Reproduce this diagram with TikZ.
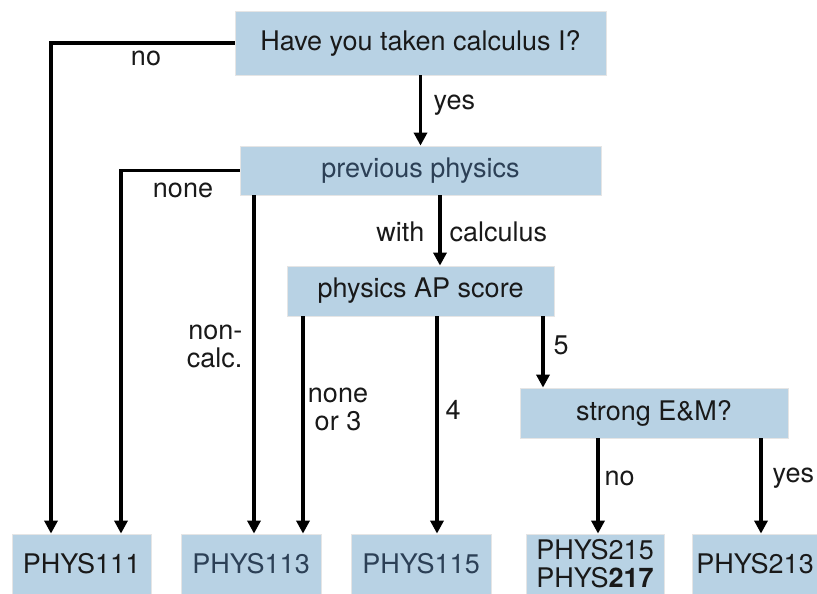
\documentclass[tikz,border=0pt]{standalone}
\usepackage{fontspec}
\setmainfont{TeX Gyre Heros}
\usetikzlibrary{arrows.meta}
\definecolor{boxblue}{RGB}{184,210,228}
\definecolor{slate}{RGB}{44,64,86}
\definecolor{ink}{RGB}{25,25,25}

\begin{document}
\begin{tikzpicture}[x=1pt, y=-1pt, line width=3.4pt, >={Triangle[width=13pt,length=13pt]},
  box/.style={fill=boxblue, draw=black!10, line width=0.8pt, inner sep=0pt, text=ink,
    font=\fontsize{27}{28}\selectfont, align=center},
  course/.style={box, minimum width=140pt, minimum height=60pt},
  lbl/.style={text=ink, font=\fontsize{27}{28}\selectfont, inner sep=0pt, align=center}]
  \useasboundingbox[fill=white] (0,0) rectangle (817,594);

  \node[box, minimum width=371pt, minimum height=64pt] (calc) at (420.5,43) {Have you taken calculus I?};
  \node[box, minimum width=361pt, minimum height=49pt, text=slate] (prev) at (420.5,170.5) {previous physics};
  \node[box, minimum width=267pt, minimum height=50pt] (ap) at (420.5,291) {physics AP score};
  \node[box, minimum width=268pt, minimum height=50pt] (em) at (654,413) {strong E\&M?};

  \node[course, minimum width=139pt] (p111) at (81.5,564) {PHYS111};
  \node[course, text=slate] (p113) at (251,564) {PHYS113};
  \node[course, text=slate] (p115) at (421,564) {PHYS115};
  \node[course, minimum width=138pt] (p215) at (595,564) {PHYS215\\PHYS\textbf{217}};
  \node[course, minimum width=126pt] (p213) at (755,564) {PHYS213};

  \coordinate (xno) at (51,0);
  \coordinate (xnone) at (121,0);
  \coordinate (xnc) at (254,0);
  \coordinate (xwc) at (440,0);
  \coordinate (xthree) at (303,0);
  \coordinate (xfour) at (437,0);
  \coordinate (xfive) at (543,0);
  \coordinate (xemno) at (598,0);
  \coordinate (xemyes) at (761,0);

  \draw[->] (calc.west) -| (xno |- p111.north);
  \draw[->] (calc.south) -- (prev.north);
  \draw[->] (prev.west) -| (xnone |- p111.north);
  \draw[->] (xnc |- prev.south) -- (xnc |- p113.north);
  \draw[->] (xwc |- prev.south) -- (xwc |- ap.north);
  \draw[->] (xthree |- ap.south) -- (xthree |- p113.north);
  \draw[->] (xfour |- ap.south) -- (xfour |- p115.north);
  \draw[->] (xfive |- ap.south) -- (xfive |- em.north);
  \draw[->] (xemno |- em.south) -- (xemno |- p215.north);
  \draw[->] (xemyes |- em.south) -- (xemyes |- p213.north);

  \node[lbl] (lno) at (146,58) {no};
  \node[lbl, anchor=west] (lyes) at (432,105) {yes};
  \node[lbl] (lnone) at (183,190) {none};
  \node[lbl, anchor=east, align=right] (lnc) at (244,346) {non-\\calc.};
  \node[lbl, anchor=east] (lwith) at (426,232) {with};
  \node[lbl, anchor=west] (lcalc) at (448,232) {calculus};
  \node[lbl] (lthree) at (338,409) {none\\or 3};
  \node[lbl, anchor=west] (lfour) at (444,410) {4};
  \node[lbl, anchor=west] (lfive) at (552,345) {5};
  \node[lbl, anchor=west] (lemno) at (603,478) {no};
  \node[lbl, anchor=west] (lemyes) at (771,478) {yes};
\end{tikzpicture}
\end{document}
